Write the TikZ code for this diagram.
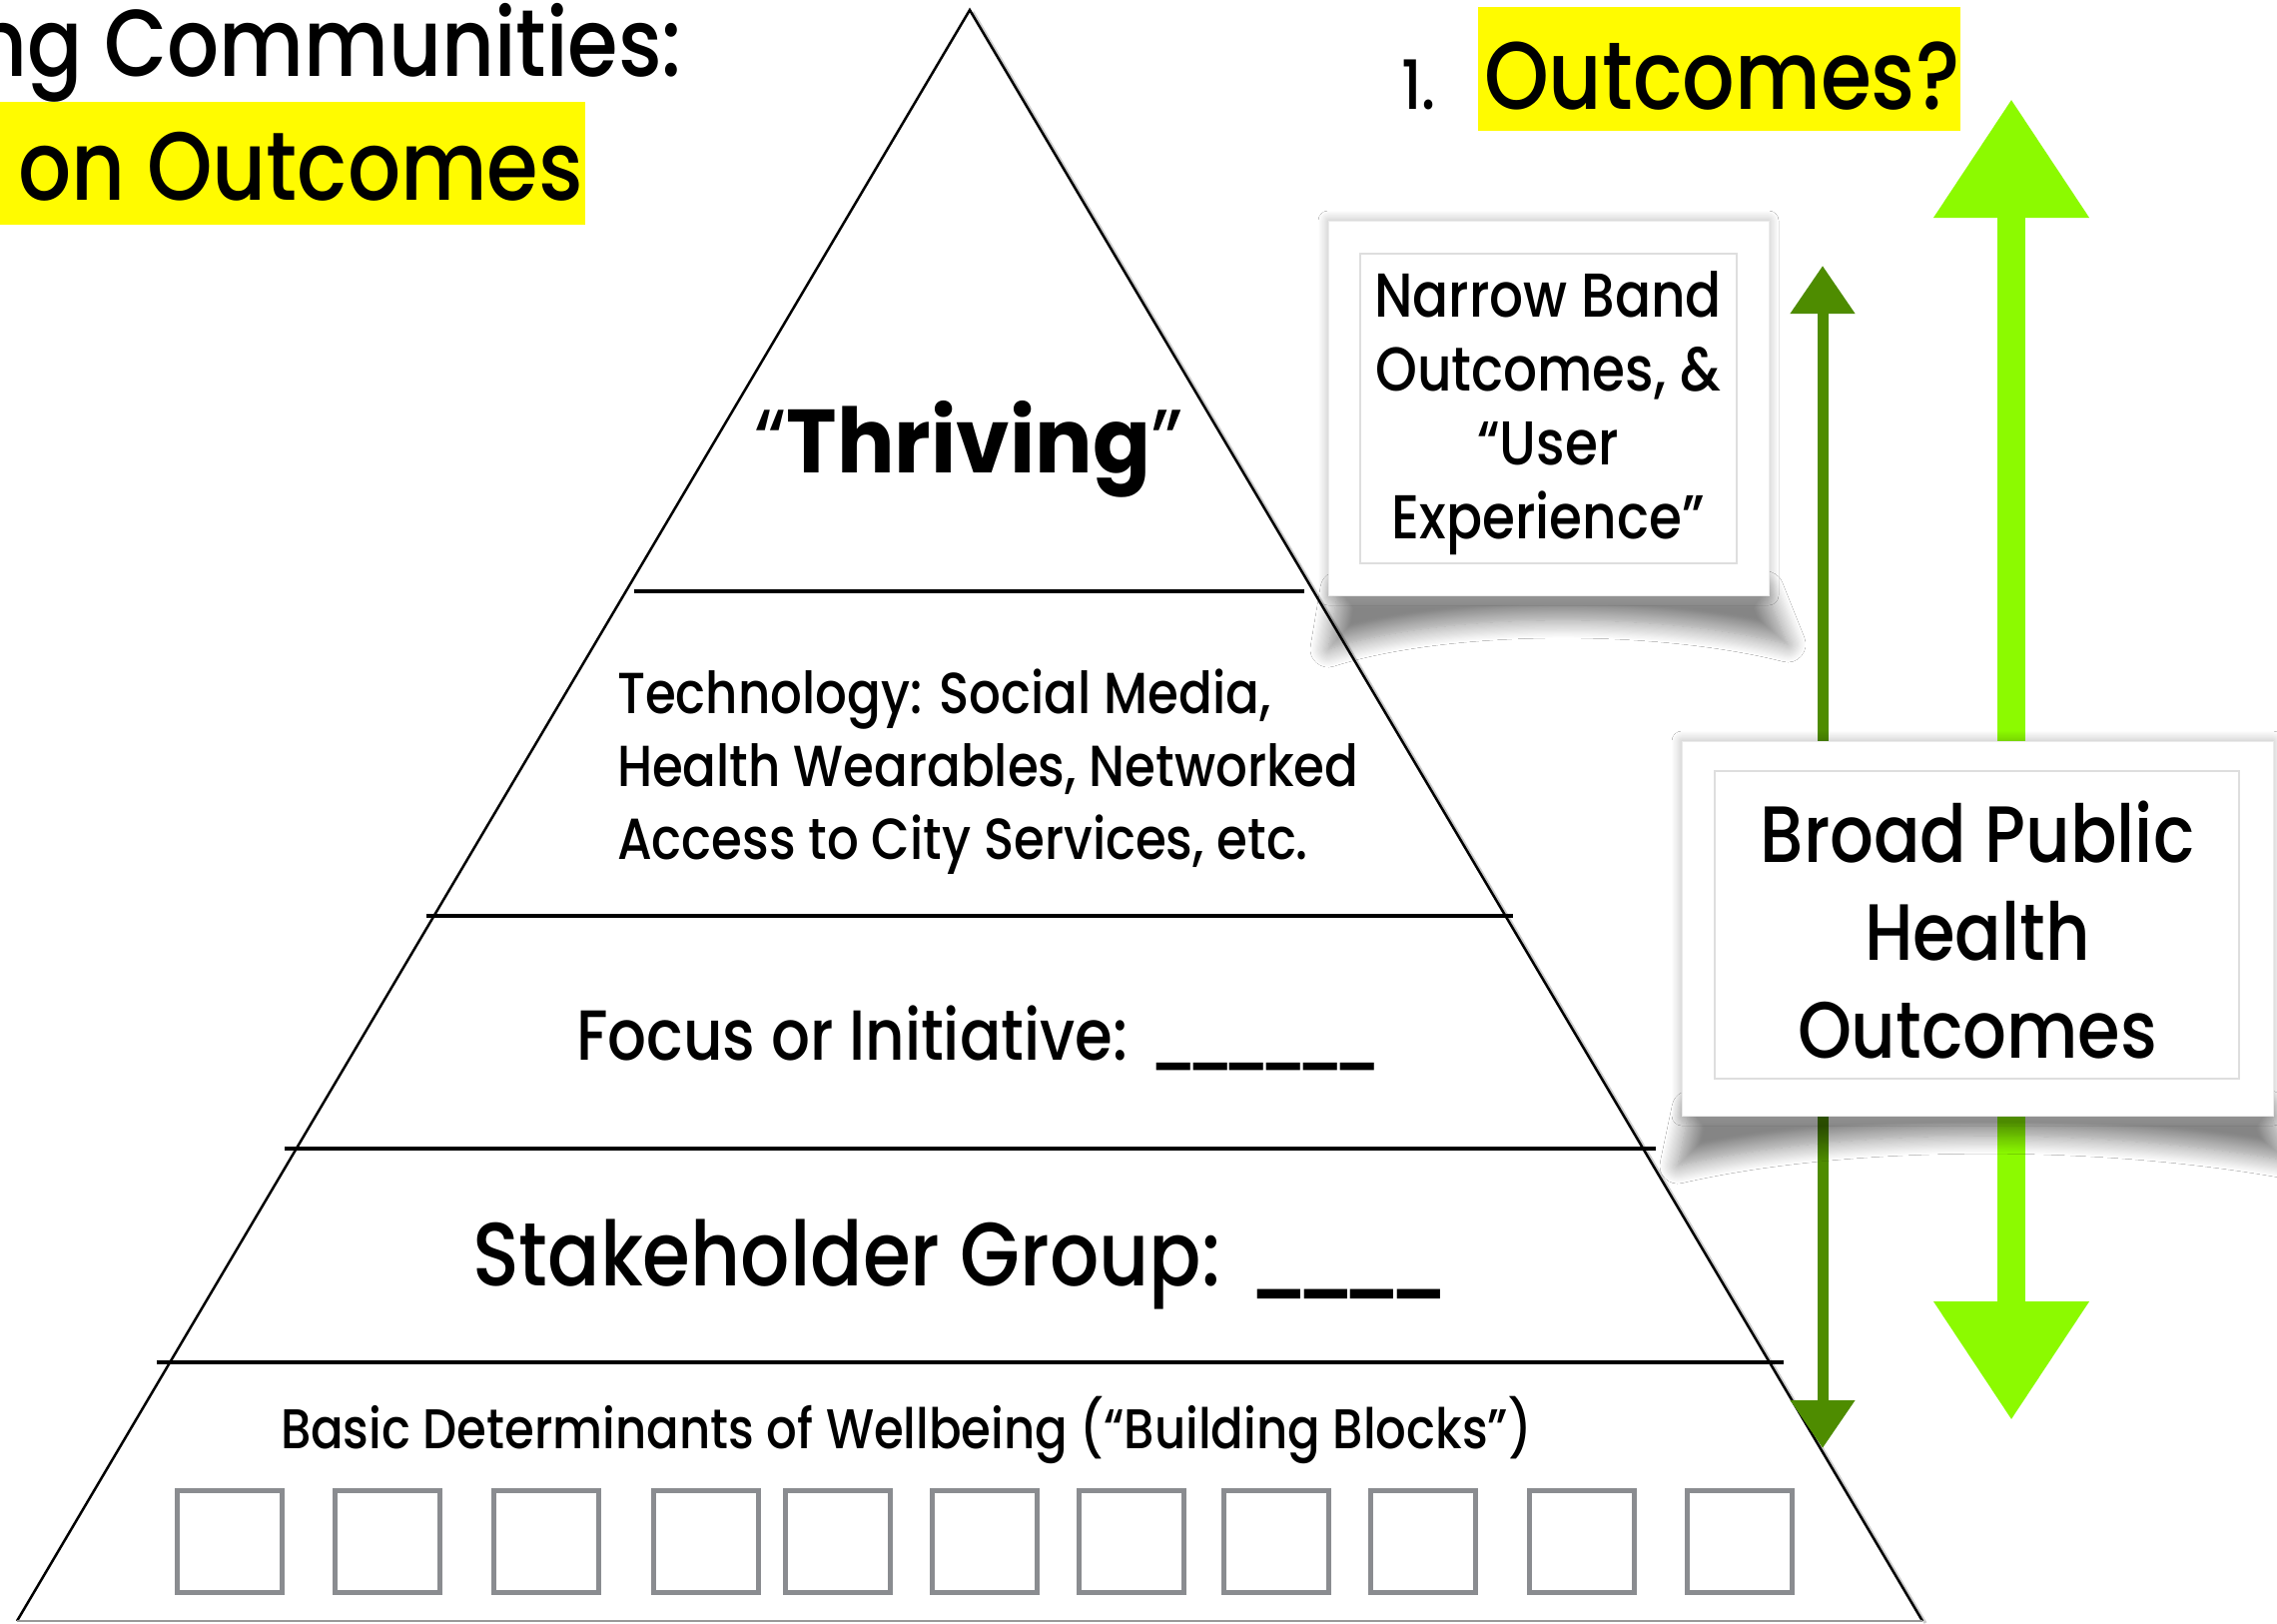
\documentclass[tikz,border=0pt]{standalone}
\usepackage{fontspec}
\setmainfont{Poppins Medium}[FakeStretch=0.86]
\newfontfamily\thrfont{Poppins}[FakeStretch=0.95]
\usetikzlibrary{arrows.meta,shadows.blur}
\definecolor{dkgreen}{RGB}{78,140,0}
\definecolor{ltgreen}{RGB}{140,250,0}
\definecolor{blkgray}{RGB}{138,140,144}
\definecolor{hiyellow}{RGB}{255,251,0}
\newcommand\fsz[2]{\fontsize{#1}{#2}\selectfont}
\newcommand\ublank[1]{\_\kern-#1pt\_\kern-#1pt\_\kern-#1pt\_}
\begin{document}
\begin{tikzpicture}[x=1pt,y=-1pt,
  pyr/.style={line width=2.5pt, black, line join=miter},
  band/.style={line width=4.5pt, black},
  lbl/.style={inner sep=0pt, outer sep=0pt, text=black},
  blk/.style={draw=blkgray, line width=5pt, fill=white, inner sep=0pt},
  card/.style={fill=white, draw=black!8, line width=1pt, inner sep=0pt},
  innerbox/.style={draw=black!13, line width=1.5pt, inner sep=0pt},
  darr/.style={draw=dkgreen, line width=11pt, -{Triangle[length=48pt,width=62pt]}},
  larr/.style={draw=ltgreen, line width=28pt, -{Triangle[length=119pt,width=148pt]}},
  curl/.style={blur shadow={shadow xshift=0pt, shadow yshift=0pt, shadow blur radius=18pt, shadow blur steps=16, shadow opacity=48}},
  soft/.style={blur shadow={shadow xshift=0pt, shadow yshift=0pt, shadow blur radius=10pt, shadow blur steps=10, shadow opacity=30}}
]
\useasboundingbox (0,0) rectangle (2280,1625);
\fill[white] (0,0) rectangle (2280,1625);

% titles
\node[lbl, anchor=base east, font=\fsz{95}{95}] (t1) at (683,76) {ng Communities:};
\fill[hiyellow] (-5,102) rectangle (586,225);
\node[lbl, anchor=base east, font=\fsz{97}{97}] (t2) at (584,200) {on Outcomes};
\fill[hiyellow] (1480,7) rectangle (1963,131);
\node[lbl, anchor=base west, font=\fsz{68}{68}] (num) at (1403,109) {1.};
\node[lbl, anchor=base west, font=\fsz{96}{96}] (oq) at (1486,109) {Outcomes?};

% pyramid
\coordinate (apex) at (971,10);
\coordinate (bl) at (17,1623);
\coordinate (br) at (1925,1623);
\draw[black!20, line width=3pt] ([xshift=3pt,yshift=-2pt]apex) -- ([xshift=3pt,yshift=-2pt]br);
\draw[pyr] (bl) -- (apex) -- (br);
\draw[black!40, line width=2pt] (bl) -- (br);

\draw[band] (635,592) -- (1306,592);
\draw[band] (427,917) -- (1515,917);
\draw[band] (285,1150) -- (1658,1150);
\draw[band] (157,1364) -- (1786,1364);

\node[lbl, font=\fsz{90}{90}\thrfont, anchor=base] (thr) at (970,473) {“\textbf{Thriving}”};
\node[lbl, font=\fsz{58}{73}, align=left, anchor=north west] (tech) at (618,670) {Technology: Social Media,\\Health Wearables, Networked\\Access to City Services, etc.};
\node[lbl, font=\fsz{71}{71}, anchor=base west] (focus) at (577,1061) {Focus or Initiative: \ublank{12}\kern-12pt\_\kern-12pt\_};
\node[lbl, font=\fsz{90}{90}, anchor=base west] (stake) at (473,1287) {Stakeholder Group: \ublank{15}};
\node[lbl, font=\fsz{56}{56}, anchor=base west] (basic) at (281,1450) {Basic Determinants of Wellbeing (“Building Blocks”)};

\foreach \i/\x in {1/229.5,2/388,3/546.5,4/706.5,5/839,6/986,7/1132.5,8/1278,9/1425,10/1583.5,11/1742}
  \node[blk, minimum width=105, minimum height=102] (sq\i) at (\x,1543) {};

% arrows
\coordinate (dUp) at (1825,266);
\coordinate (dDn) at (1825,1450);
\coordinate (lUp) at (2014,99);
\coordinate (lDn) at (2014,1422);
\coordinate (bpTop) at (1980,742);
\coordinate (bpBot) at (1980,1117);
\draw[darr] (bpTop -| dUp) -- (dUp);
\draw[darr] (bpBot -| dDn) -- (dDn);
\draw[larr] (bpTop -| lUp) -- (lUp);
\draw[larr] (bpBot -| lDn) -- (lDn);

% narrow band card
\path[curl] (1340,590) -- (1330,650) .. controls (1450,612) and (1660,612) .. (1790,645) -- (1768,590) -- cycle;
\path[soft] (1330,221) rectangle (1771,596);
\node[card, minimum width=441, minimum height=375] (nbcard) at (1550.5,408.5) {};
\node[innerbox, minimum width=377, minimum height=310] (nbin) at (1550.5,409) {};
\node[lbl, align=center, font=\fsz{62}{74}] (nbtxt) at (1550,414) {Narrow Band\\Outcomes, \&\\“User\\Experience”};

% broad card
\path[curl] (1692,1110) -- (1680,1167) .. controls (1850,1128) and (2100,1128) .. (2290,1162) -- (2272,1110) -- cycle;
\path[soft] (1684,742) rectangle (2276,1117);
\node[card, minimum width=592, minimum height=375] (bpcard) at (1980,929.5) {};
\node[innerbox, minimum width=525, minimum height=308] (bpin) at (1979.5,926) {};
\node[lbl, align=center, font=\fsz{80}{98}] (bptxt) at (1980,931) {Broad Public\\Health\\Outcomes};
\end{tikzpicture}
\end{document}
